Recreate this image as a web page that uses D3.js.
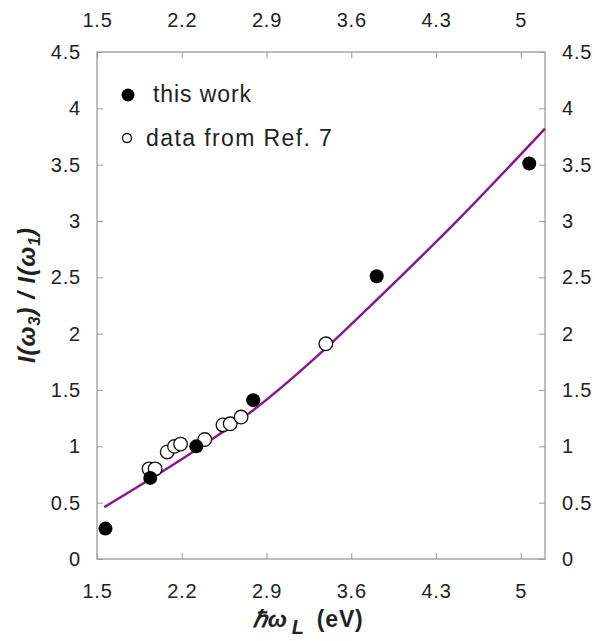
<!DOCTYPE html>
<html>
<head>
<meta charset="utf-8">
<script src="https://cdn.jsdelivr.net/npm/d3@7"></script>
<style>
  body { margin: 0; background: #fff; }
  text { font-family: Arial, "Liberation Sans", sans-serif; }
</style>
</head>
<body>
<script>
// values
let thisWork = [[1.57, 0.27], [1.94, 0.72], [2.32, 1.0], [2.79, 1.41], [3.81, 2.51], [5.07, 3.51]];
let refSeven = [[1.93, 0.8], [1.98, 0.8], [2.08, 0.95], [2.14, 1.0], [2.19, 1.02], [2.39, 1.06],
                [2.54, 1.19], [2.6, 1.2], [2.69, 1.26], [3.39, 1.91]];
let fitCurve = [[1.56, 0.46], [1.94, 0.71], [2.32, 0.97], [2.79, 1.32], [3.4, 1.88], [3.81, 2.3],
                [4.5, 3.03], [5.2, 3.82]];
let xTicks = [1.5, 2.2, 2.9, 3.6, 4.3, 5];
let yTicks = [0, 0.5, 1, 1.5, 2, 2.5, 3, 3.5, 4, 4.5];

let canvasW = 595, canvasH = 641;
let plotL = 97, plotR = 545, plotT = 52, plotB = 559;

let svg = d3.select("body").append("svg")
  .attr("width", canvasW)
  .attr("height", canvasH);

let x = d3.scaleLinear().domain([1.5, 5.2]).range([plotL, plotR]);
let y = d3.scaleLinear().domain([0, 4.5]).range([plotB, plotT]);

let frameCol = "#9a9a9a";
let labelCol = "#222";

function styleAxis(g) {
  g.select(".domain").remove();
  g.selectAll(".tick line").attr("stroke", frameCol).attr("stroke-width", 1);
  g.selectAll(".tick text").attr("fill", labelCol).attr("font-size", 20).attr("letter-spacing", 0.8);
}

svg.append("g").attr("transform", `translate(0,${plotB})`)
  .call(d3.axisBottom(x).tickValues(xTicks).tickSize(-6).tickPadding(25).tickFormat(d3.format("")))
  .call(styleAxis);
svg.append("g").attr("transform", `translate(0,${plotT})`)
  .call(d3.axisTop(x).tickValues(xTicks).tickSize(-6).tickPadding(25).tickFormat(d3.format("")))
  .call(styleAxis);
svg.append("g").attr("transform", `translate(${plotL},0)`)
  .call(d3.axisLeft(y).tickValues(yTicks).tickSize(-6).tickPadding(16).tickFormat(d3.format("")))
  .call(styleAxis);
svg.append("g").attr("transform", `translate(${plotR},0)`)
  .call(d3.axisRight(y).tickValues(yTicks).tickSize(-6).tickPadding(17).tickFormat(d3.format("")))
  .call(styleAxis);

// frame
svg.append("rect")
  .attr("x", plotL).attr("y", plotT)
  .attr("width", plotR - plotL).attr("height", plotB - plotT)
  .attr("fill", "none").attr("stroke", frameCol).attr("stroke-width", 1.3);

// fit line
svg.append("path")
  .datum(fitCurve)
  .attr("fill", "none")
  .attr("stroke", "#861a8a")
  .attr("stroke-width", 2.5)
  .attr("d", d3.line().x(d => x(d[0])).y(d => y(d[1])).curve(d3.curveMonotoneX));

// open circles
svg.selectAll("circle.ref")
  .data(refSeven)
  .join("circle")
  .attr("class", "ref")
  .attr("cx", d => x(d[0]))
  .attr("cy", d => y(d[1]))
  .attr("r", 6.8)
  .attr("fill", "#fff")
  .attr("stroke", "#111")
  .attr("stroke-width", 1.3);

// filled circles
svg.selectAll("circle.work")
  .data(thisWork)
  .join("circle")
  .attr("class", "work")
  .attr("cx", d => x(d[0]))
  .attr("cy", d => y(d[1]))
  .attr("r", 7)
  .attr("fill", "#000");

// legend
svg.append("circle").attr("cx", 128).attr("cy", 95).attr("r", 6.5).attr("fill", "#000");
svg.append("text").attr("x", 153).attr("y", 102).attr("font-size", 23).attr("letter-spacing", 0.9)
  .attr("fill", labelCol).text("this work");
svg.append("circle").attr("cx", 127).attr("cy", 138).attr("r", 4.5)
  .attr("fill", "#fff").attr("stroke", "#111").attr("stroke-width", 1.3);
svg.append("text").attr("x", 146).attr("y", 146).attr("font-size", 23).attr("letter-spacing", 1.4)
  .attr("fill", labelCol).text("data from Ref. 7");

// x label
let xl = svg.append("text")
  .attr("x", 253).attr("y", 627)
  .attr("font-size", 23).attr("font-weight", "bold").attr("letter-spacing", 0.8).attr("fill", labelCol);
xl.append("tspan").attr("font-style", "italic").text("\u210F\u03C9");
xl.append("tspan").attr("font-style", "italic").attr("font-size", 20).attr("dx", 4).attr("dy", 7).text("L");
xl.append("tspan").attr("dx", 12).attr("dy", -7).text("(eV)");

// y label
let yl = svg.append("text")
  .attr("transform", "translate(35,295) rotate(-90)")
  .attr("text-anchor", "middle")
  .attr("font-size", 24).attr("font-weight", "bold").attr("font-style", "italic")
  .attr("letter-spacing", 1).attr("fill", labelCol);
yl.append("tspan").text("I(\u03C9");
yl.append("tspan").attr("font-size", 16).attr("dy", 5).text("3");
yl.append("tspan").attr("dy", -5).text(") / I(\u03C9");
yl.append("tspan").attr("font-size", 16).attr("dy", 5).text("1");
yl.append("tspan").attr("dy", -5).text(")");
</script>
</body>
</html>
